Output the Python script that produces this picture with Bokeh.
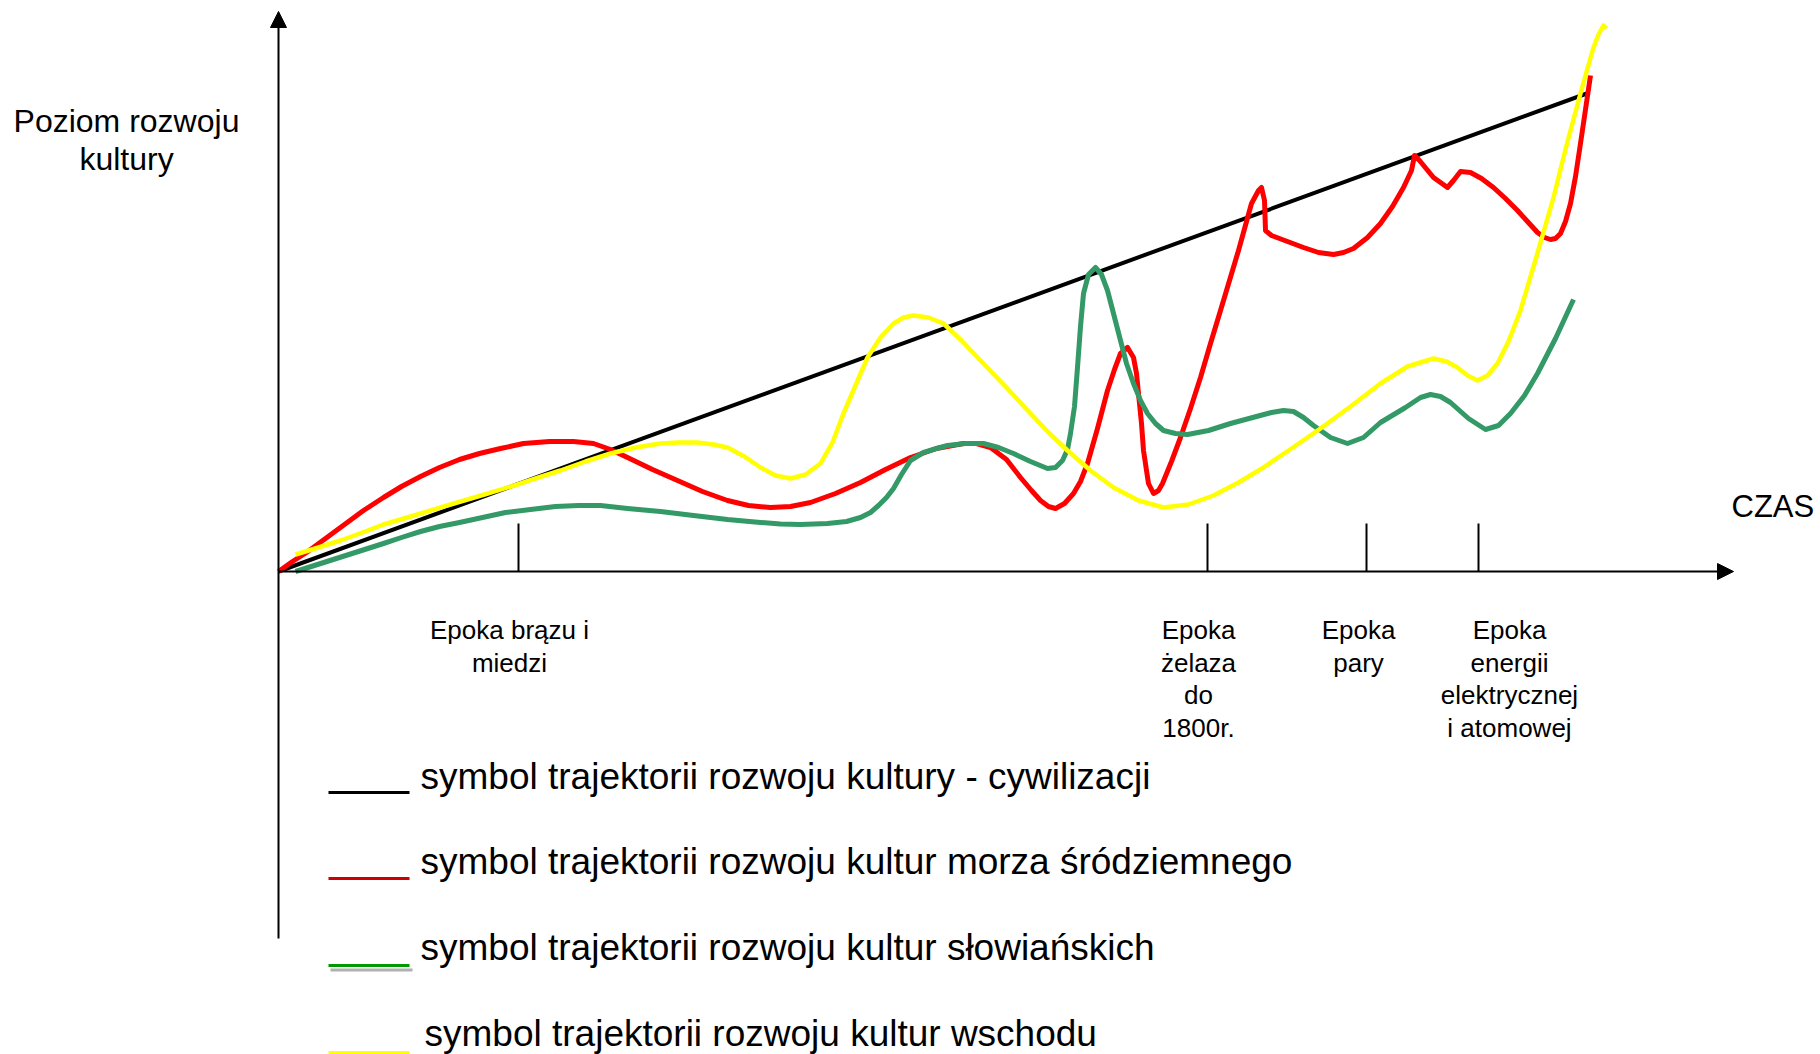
from bokeh.plotting import figure
from bokeh.models import Range1d, Arrow, NormalHead
from bokeh.core.properties import value
from bokeh.embed import file_html
from bokeh.resources import INLINE

# ---------------- data (time units, culture-level units) ----------------
black_t = [0.0, 131.1]
black_v = [0.0, 47.9]

red_t = [0.0, 1.4, 2.8, 4.7, 6.6, 8.5, 10.5, 12.3, 14.2, 16.1, 18.1, 20.1, 22.2, 24.5, 27.1,
         29.5, 31.5, 33.2, 34.9, 37.4, 39.9, 42.4, 44.9, 47.0, 49.2, 51.2, 53.2, 55.7, 58.2,
         60.7, 63.2, 65.8, 68.5, 69.8, 71.2, 72.8, 74.2, 75.3, 76.2, 77.0, 77.7, 78.6, 79.5,
         80.2, 80.9, 81.9, 82.9, 83.6, 84.2, 84.9, 85.5, 85.8, 86.0, 86.3, 86.5, 86.8, 87.0,
         87.5, 88.0, 88.4, 89.3, 90.2, 91.2, 92.2, 93.2, 94.2, 95.1, 96.0, 97.3, 98.0, 98.3,
         98.6, 98.7, 99.3, 100.9, 102.5, 104.0, 105.5, 106.5, 107.5, 108.9, 110.2, 111.4,
         112.5, 113.3, 113.6, 114.1, 115.5, 116.9, 117.5, 118.2, 119.2, 120.3, 121.5, 122.7,
         123.9, 124.9, 125.9, 126.6, 127.2, 127.7, 128.2, 128.7, 129.2, 129.7, 130.2, 130.7,
         131.2]
red_v = [0.0, 1.0, 1.9, 3.3, 4.7, 6.1, 7.4, 8.5, 9.5, 10.4, 11.2, 11.8, 12.3, 12.8, 13.0,
         13.0, 12.8, 12.2, 11.4, 10.2, 9.1, 8.0, 7.1, 6.6, 6.4, 6.5, 6.9, 7.8, 8.9,
         10.2, 11.4, 12.3, 12.8, 12.8, 12.4, 11.2, 9.4, 8.1, 7.1, 6.5, 6.3, 6.8, 7.8,
         9.0, 10.8, 14.3, 18.1, 20.2, 21.8, 22.4, 21.4, 19.8, 17.8, 14.8, 12.1, 10.1, 8.8,
         7.8, 8.1, 8.8, 11.0, 13.4, 16.3, 19.4, 22.8, 26.1, 29.1, 32.1, 36.8, 38.1, 38.4,
         37.1, 34.1, 33.6, 33.0, 32.4, 31.9, 31.7, 31.9, 32.3, 33.4, 34.8, 36.5,
         38.4, 40.1, 41.6, 41.1, 39.4, 38.4, 39.1, 40.0, 39.9, 39.3, 38.4, 37.3,
         36.1, 35.0, 33.9, 33.4, 33.2, 33.3, 33.8, 35.0, 36.8, 39.5, 42.8, 46.2,
         49.6]

green_t = [1.7, 3.9, 6.1, 8.3, 10.5, 12.3, 14.2, 16.1, 18.1, 20.4, 22.7, 25.2, 27.7, 30.0,
           32.2, 34.9, 38.2, 41.5, 44.9, 48.2, 50.2, 52.2, 54.9, 56.8, 58.2, 59.2, 60.0, 60.8,
           61.5, 62.3, 63.2, 64.5, 65.8, 66.9, 68.7, 70.5, 72.0, 73.5, 75.2, 76.9, 77.7, 78.4,
           78.9, 79.2, 79.6, 79.9, 80.2, 80.5, 81.0, 81.7, 82.3, 82.9, 83.5, 84.2, 84.8, 85.5,
           86.2, 86.9, 87.7, 88.5, 89.7, 90.9, 93.0, 95.2, 97.8, 99.3, 100.5, 101.5, 102.5,
           103.5, 105.2, 106.9, 108.5, 110.2, 112.7, 114.2, 115.2, 116.2, 117.2, 119.0, 120.7,
           122.0, 123.2, 124.6, 125.9, 127.7, 129.5]
green_v = [0.0, 0.7, 1.4, 2.1, 2.8, 3.4, 4.0, 4.5, 4.9, 5.4, 5.9, 6.2, 6.5, 6.6,
           6.6, 6.3, 6.0, 5.6, 5.2, 4.9, 4.75, 4.7, 4.8, 5.0, 5.4, 5.9, 6.6, 7.4,
           8.3, 9.7, 11.1, 11.9, 12.3, 12.6, 12.8, 12.8, 12.4, 11.8, 11.0, 10.3, 10.4, 11.1,
           12.2, 13.8, 16.5, 20.4, 24.5, 27.8, 29.7, 30.4, 29.7, 28.1, 25.8, 23.1, 20.8, 18.8,
           17.1, 15.8, 14.8, 14.1, 13.8, 13.7, 14.1, 14.8, 15.5, 15.9, 16.1, 16.0, 15.4,
           14.6, 13.4, 12.8, 13.4, 14.9, 16.4, 17.4, 17.7, 17.5, 16.9, 15.3, 14.2,
           14.6, 15.8, 17.6, 19.8, 23.3, 27.2]

yellow_t = [1.7, 4.0, 6.2, 8.4, 10.5, 13.9, 17.2, 20.6, 23.9, 26.0, 28.2, 30.7, 33.2, 35.7,
            38.2, 40.0, 41.9, 43.5, 44.9, 46.6, 48.2, 49.7, 51.2, 52.7, 54.2, 55.4, 56.5, 57.7,
            58.9, 60.2, 61.5, 62.5, 63.5, 65.0, 66.5, 68.3, 70.2, 72.7, 75.2, 77.0, 78.9, 81.2,
            83.5, 86.0, 88.5, 91.0, 93.5, 96.0, 98.5, 101.3, 104.2, 107.2, 110.2, 112.9, 115.5,
            116.8, 117.9, 118.9, 119.9, 120.9, 121.9, 123.0, 124.2, 125.8, 127.5, 128.8, 130.2,
            130.9, 131.5, 132.0, 132.5, 132.8]
yellow_v = [1.7, 2.4, 3.1, 3.9, 4.7, 5.7, 6.7, 7.7, 8.7, 9.4, 10.1, 11.0, 11.8, 12.4,
            12.8, 12.9, 12.9, 12.7, 12.4, 11.5, 10.4, 9.6, 9.3, 9.7, 10.8, 12.9, 15.8, 18.6,
            21.4, 23.4, 24.8, 25.4, 25.6, 25.4, 24.8, 23.1, 21.1, 18.5, 15.8, 13.9, 12.1, 10.1,
            8.4, 7.1, 6.4, 6.7, 7.6, 8.9, 10.4, 12.3, 14.3, 16.5, 18.8, 20.5, 21.3,
            21.0, 20.4, 19.6, 19.1, 19.6, 20.8, 23.0, 26.1, 31.5, 37.4, 42.6, 47.8,
            50.3, 52.4, 53.7, 54.6, 54.3]

epoch_ticks = [24.0, 92.9, 108.8, 120.0]
epoch_label_x = [23.1, 92.0, 108.0, 123.1]
epoch_labels = ["Epoka brązu i\nmiedzi",
                "Epoka\nżelaza\ndo\n1800r.",
                "Epoka\npary",
                "Epoka\nenergii\nelektrycznej\ni atomowej"]

y_title = "Poziom rozwoju\nkultury"
x_title = "CZAS"

legend_labels = ["symbol trajektorii rozwoju kultury - cywilizacji",
                 "symbol trajektorii rozwoju kultur morza śródziemnego",
                 "symbol trajektorii rozwoju kultur słowiańskich",
                 "symbol trajektorii rozwoju kultur wschodu"]
legend_colors = ["#000000", "#CC0000", "#009A00", "#FFFF00"]

# ---------------- layout / style ----------------
FONT = value("Liberation Sans")
RED, GREEN, YELLOW = "#FF0000", "#339966", "#FFFF00"

p = figure(width=1820, height=1054,
           x_range=Range1d(-27.8, 154.2), y_range=Range1d(-48.3, 57.1),
           x_axis_type=None, y_axis_type=None,
           output_backend="svg", toolbar_location=None, min_border=0)
p.grid.visible = False
p.outline_line_color = None
p.background_fill_color = "white"
p.border_fill_color = "white"

# axes drawn as arrows
p.add_layout(Arrow(end=NormalHead(size=16, fill_color="black", line_color="black", line_width=1),
                   x_start=0, y_start=-36.7, x_end=0, y_end=56.0,
                   line_width=2, line_color="black"))
p.add_layout(Arrow(end=NormalHead(size=16, fill_color="black", line_color="black", line_width=1),
                   x_start=0, y_start=0, x_end=145.5, y_end=0,
                   line_width=2, line_color="black"))

# epoch ticks
tick_h = 4.8
p.segment(x0=epoch_ticks, y0=[0] * len(epoch_ticks), x1=epoch_ticks,
          y1=[tick_h] * len(epoch_ticks), line_color="black", line_width=2)

# curves
p.line(black_t, black_v, line_color="black", line_width=4)
p.line(red_t, red_v, line_color=RED, line_width=5, line_join="round")
p.line(green_t, green_v, line_color=GREEN, line_width=5, line_join="round")
p.line(yellow_t, yellow_v, line_color=YELLOW, line_width=4.5, line_join="round")

# epoch labels (one text per line)
ex, ey, et = [], [], []
for cx, lab in zip(epoch_label_x, epoch_labels):
    for i, ln in enumerate(lab.split("\n")):
        ex.append(cx); ey.append(-5.85 - 3.25 * i); et.append(ln)
p.text(x=ex, y=ey, text=et, text_font=FONT, text_font_size=value("26px"),
       text_align="center", text_baseline="alphabetic", text_color="black")

# y title
yl = y_title.split("\n")
p.text(x=[-15.2] * len(yl), y=[45.05 - 3.8 * i for i in range(len(yl))], text=yl,
       text_font=FONT, text_font_size=value("32px"), text_align="center",
       text_baseline="alphabetic", text_color="black")

# x title
p.text(x=[145.3], y=[6.5], text=[x_title], text_font=FONT, text_font_size=value("31px"),
       text_align="left", text_baseline="alphabetic", text_color="black")

# legend (underscores + texts)
leg_base = [-20.45, -29.0, -37.6, -46.2]
leg_line = [-22.1, -30.7, -39.4, -48.1]
leg_tx = [14.2, 14.2, 14.2, 14.6]
p.segment(x0=[5.2], y0=[-39.85], x1=[13.4], y1=[-39.85], line_color="#B0B0B0", line_width=3)
p.segment(x0=[5.0] * 4, y0=leg_line, x1=[13.1] * 4, y1=leg_line,
          line_color=legend_colors, line_width=3)
p.text(x=leg_tx, y=leg_base, text=legend_labels, text_font=FONT,
       text_font_size=value("37px"), text_align="left", text_baseline="alphabetic",
       text_color="black")

open("out.html", "w").write(file_html(p, INLINE))
